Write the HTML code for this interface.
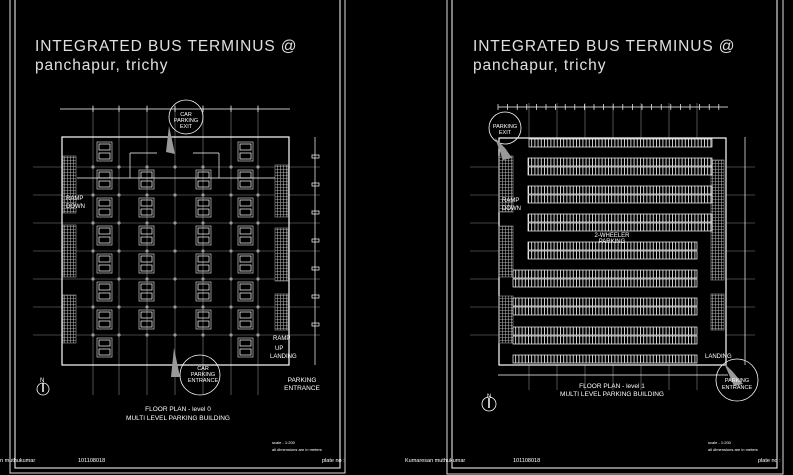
<!DOCTYPE html>
<html><head><meta charset="utf-8"><style>
html,body{margin:0;padding:0;background:#000;width:793px;height:475px;overflow:hidden}
svg{display:block}
text{font-family:"Liberation Sans",sans-serif;fill:#fff}
</style></head><body>
<svg id="s" width="793" height="475" viewBox="0 0 793 475" xmlns="http://www.w3.org/2000/svg">
<defs>
<pattern id="hat" width="3" height="3" patternUnits="userSpaceOnUse"><rect width="3" height="3" fill="#000"/><path d="M0 1.5H3M1.5 0V3" stroke="#aaa" stroke-width="0.6"/></pattern>
<pattern id="st" width="3.2" height="10" patternUnits="userSpaceOnUse"><rect width="3.2" height="10" fill="#000"/><line x1="0.5" y1="0" x2="0.5" y2="10" stroke="#fff" stroke-width="0.8"/></pattern>
</defs>
<g id="g"></g>
<g style="fill:#e0e0e0">
<text x="35" y="51" font-size="15.5" letter-spacing="0.9" style="fill:#e0e0e0">INTEGRATED BUS TERMINUS @</text>
<text x="35" y="70" font-size="15.5" letter-spacing="0.9" style="fill:#e0e0e0">panchapur, trichy</text>
<text x="473" y="51" font-size="15.5" letter-spacing="0.9" style="fill:#e0e0e0">INTEGRATED BUS TERMINUS @</text>
<text x="473" y="70" font-size="15.5" letter-spacing="0.9" style="fill:#e0e0e0">panchapur, trichy</text>
</g>
<text x="178" y="411" font-size="6.5" text-anchor="middle">FLOOR PLAN  -  level 0</text>
<text x="178" y="420" font-size="6.5" text-anchor="middle">MULTI LEVEL PARKING BUILDING</text>
<text x="612" y="388" font-size="6.5" text-anchor="middle">FLOOR PLAN  -  level 1</text>
<text x="612" y="396" font-size="6.5" text-anchor="middle">MULTI LEVEL PARKING BUILDING</text>
<text x="302" y="382" font-size="6.5" text-anchor="middle">PARKING</text>
<text x="302" y="390" font-size="6.5" text-anchor="middle">ENTRANCE</text>
<text x="0" y="462" font-size="5.5">n  muthukumar</text>
<text x="78" y="462" font-size="5.5">101108018</text>
<text x="322" y="462" font-size="5.5">plate no :</text>
<text x="405" y="462" font-size="5.5">Kumaresan  muthukumar</text>
<text x="513" y="462" font-size="5.5">101108018</text>
<text x="758" y="462" font-size="5.5">plate no :</text>
<text x="272" y="444" font-size="4">scale  -  1:200</text>
<text x="272" y="451" font-size="4">all dimensions are in meters</text>
<text x="708" y="444" font-size="4">scale  -  1:200</text>
<text x="708" y="451" font-size="4">all dimensions are in meters</text>
<text x="40" y="382" font-size="6">N</text>
<text x="487" y="398" font-size="6">N</text>
<text x="66" y="200" font-size="6">RAMP</text><text x="66" y="208" font-size="6">DOWN</text>
<text x="273" y="340" font-size="6">RAMP</text><text x="275" y="350" font-size="6">UP</text>
<text x="270" y="358" font-size="6">LANDING</text>
<text x="502" y="202" font-size="6">RAMP</text><text x="502" y="210" font-size="6">DOWN</text>
<text x="705" y="358" font-size="6">LANDING</text>
<text x="612" y="237" font-size="6" text-anchor="middle">2-WHEELER</text>
<text x="612" y="243" font-size="6" text-anchor="middle">PARKING</text>
<text x="186" y="116" font-size="5.5" text-anchor="middle" fill="#ccc">CAR</text>
<text x="186" y="122" font-size="5.5" text-anchor="middle" fill="#ccc">PARKING</text>
<text x="186" y="128" font-size="5.5" text-anchor="middle" fill="#ccc">EXIT</text>
<text x="203" y="370" font-size="5.5" text-anchor="middle" fill="#ccc">CAR</text>
<text x="203" y="376" font-size="5.5" text-anchor="middle" fill="#ccc">PARKING</text>
<text x="203" y="382" font-size="5.5" text-anchor="middle" fill="#ccc">ENTRANCE</text>
<text x="505" y="128" font-size="5.5" text-anchor="middle">PARKING</text>
<text x="505" y="134" font-size="5.5" text-anchor="middle">EXIT</text>
<text x="737" y="382" font-size="5.5" text-anchor="middle">PARKING</text>
<text x="737" y="389" font-size="5.5" text-anchor="middle">ENTRANCE</text>
</svg>
<script>
var g=document.getElementById('g'),h='';
function L(a,b,c,d,s,w){h+='<line x1="'+a+'" y1="'+b+'" x2="'+c+'" y2="'+d+'" stroke="'+(s||'#fff')+'" stroke-width="'+(w||0.7)+'"/>';}
function R(x,y,w,ht,s,f,sw){h+='<rect x="'+x+'" y="'+y+'" width="'+w+'" height="'+ht+'" fill="'+(f||'none')+'" stroke="'+(s||'#fff')+'" stroke-width="'+(sw||0.7)+'"/>';}
function C(x,y,r,s){h+='<circle cx="'+x+'" cy="'+y+'" r="'+r+'" fill="none" stroke="'+(s||'#fff')+'" stroke-width="0.8"/>';}
function P(d,f){h+='<path d="'+d+'" fill="'+f+'"/>';}
R(10,-2,335,475,'#ddd',0,1);R(15,-2,325,470,'#fff',0,1);
R(447,-2,336,476,'#ddd',0,1);R(452,-2,325,470,'#fff',0,1);
var cx=[93,119,147,175,203,231,258],ry=[167,195,223,251,279,307,335];
cx.forEach(function(x){L(x,105,x,395,'#888',0.6);});
ry.forEach(function(y){L(33,y,320,y,'#888',0.6);});
L(60,109,290,109);cx.forEach(function(x){L(x,106,x,112);});
L(315,137,315,365);ry.forEach(function(y){R(312,y-12,7,3,'#fff');});
R(62,137,227,228,'#fff',0,1.2);
[[63,156,13,57],[63,225,13,52],[63,295,13,48]].forEach(function(a){R(a[0],a[1],a[2],a[3],'#888','url(#hat)');});
[[275,165,13,52],[275,228,13,53],[275,294,13,36]].forEach(function(a){R(a[0],a[1],a[2],a[3],'#888','url(#hat)');});
function grp(x,y){R(x,y,15,19,'#ccc');R(x+2,y+2,11,6,'#fff');R(x+2,y+11,11,6,'#fff');}
var yy=[142,170,198,226,254,282,310,338];
yy.forEach(function(y){grp(97,y);grp(238,y);});
yy.slice(1,7).forEach(function(y){grp(139,y);grp(196,y);});
ry.forEach(function(y){cx.forEach(function(x){h+='<circle cx="'+x+'" cy="'+y+'" r="1.6" fill="#999"/>';});});
L(77,178,275,178);L(130,153,130,178);L(130,153,157,153);L(219,153,219,178);L(193,153,219,153);
C(186,117,17);C(200,375,20);
P('M169 126 L175 154 L166 152 Z','#999');P('M174 348 L180 377 L171 377 Z','#999');
C(43,389,6);L(43,383,43,392,'#fff',1.5);
var rx=[529,557,585,613,641,669,697];
rx.forEach(function(x){L(x,103,x,390,'#888',0.6);});
[167,195,223,251,279,307,335].forEach(function(y){L(470,y,755,y,'#888',0.6);});
L(498,107,728,107);for(var x=498;x<=728;x+=9.6)L(x,104,x,110);
L(745,137,745,365);L(498,375,728,375);
R(499,138,227,227,'#fff','#000',1.2);
[[499,156,14,56],[499,226,14,51],[499,296,14,47]].forEach(function(a){R(a[0],a[1],a[2],a[3],'#888','url(#hat)');});
[[711,160,13,120],[711,294,13,36]].forEach(function(a){R(a[0],a[1],a[2],a[3],'#888','url(#hat)');});
function strip(x,y,w){R(x,y,w,8,'#fff','url(#st)');}
strip(529,139,183);
[[158,528],[186,528],[214,528],[242,528],[270,513],[298,513],[327,513]].forEach(function(a){var w=a[0]>=242?697-a[1]:712-a[1];strip(a[1],a[0],w);strip(a[1],a[0]+9,w);});
strip(513,355,184);
C(505,128,16);C(737,380,21);
P('M495 138 L505 148 L512 158 L503 160 Z','#999');P('M724 363 L733 372 L743 384 L734 386 Z','#999');
C(489,404,7);L(489,398,489,408,'#fff',1.5);
g.innerHTML=h;
</script>
</body></html>
